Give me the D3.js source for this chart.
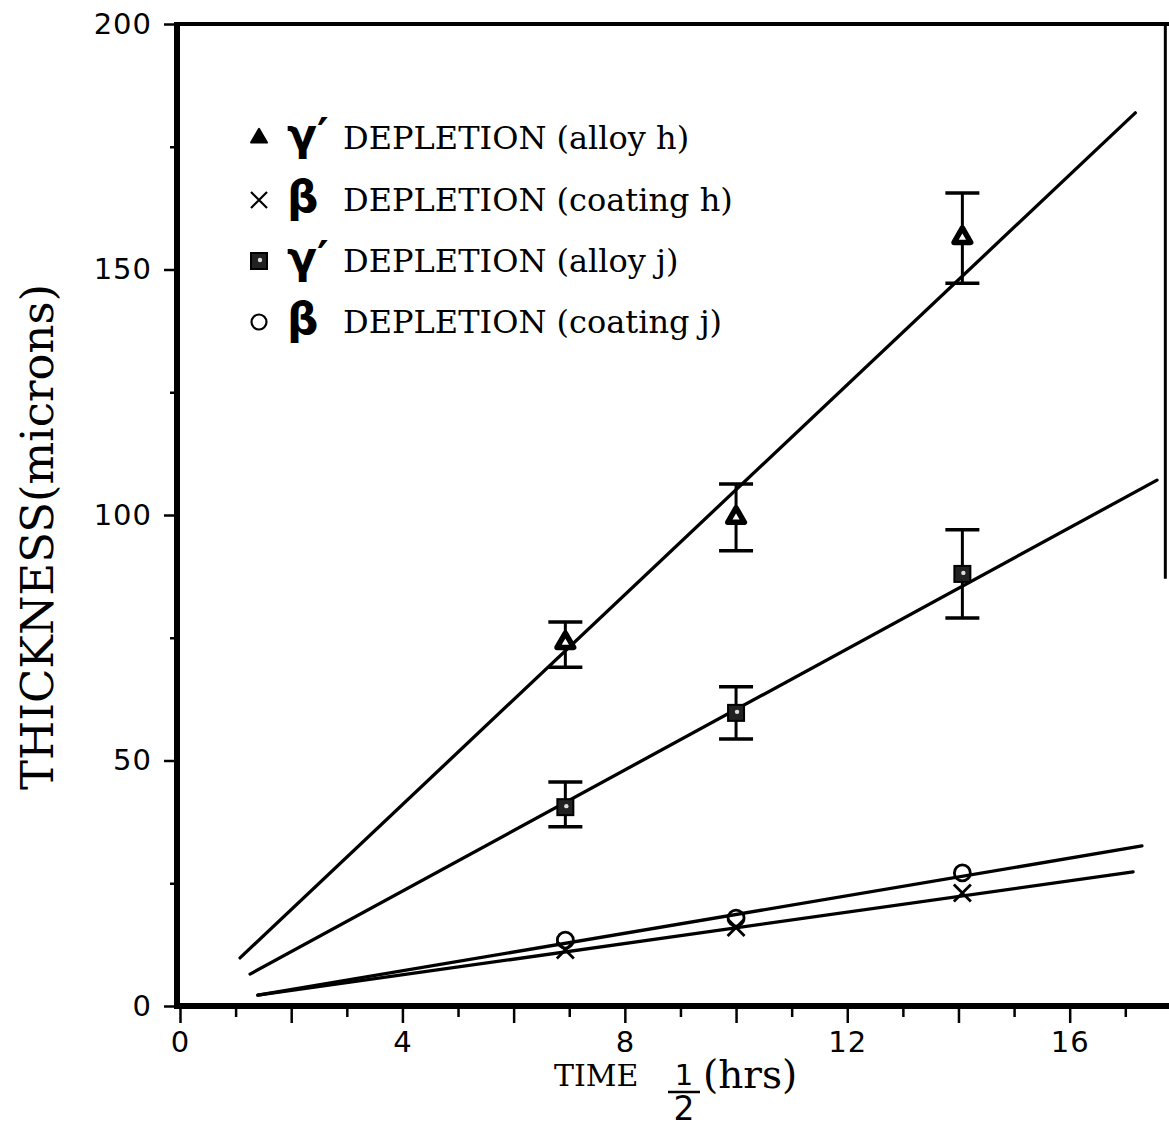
<!DOCTYPE html>
<html>
<head>
<meta charset="utf-8">
<script src="https://cdn.jsdelivr.net/npm/d3@7/dist/d3.min.js"></script>
<style>
body{margin:0;background:#fff;}
svg{display:block;}
</style>
</head>
<body>
<svg id="chart" width="1169" height="1130"></svg>
<script>
// sqrt(time) of the three exposures
var times = [6.93, 10.0, 14.07];

// gamma' depletion, alloy h (triangles) with error bars
var alloyH = [74, 99.5, 156.5];
var alloyHLow = [69, 92.7, 147.2];
var alloyHHigh = [78.2, 106.3, 165.6];

// gamma' depletion, alloy j (squares) with error bars
var alloyJ = [40.5, 59.7, 88];
var alloyJLow = [36.5, 54.4, 79];
var alloyJHigh = [45.6, 65, 97];

// beta depletion in coatings
var coatingH = [11.4, 16, 23];
var coatingJ = [13.4, 17.9, 27.1];

// fitted straight lines, [x, y] at both ends
var fitAlloyH = [[1.08, 9.8], [17.18, 181.9]];
var fitAlloyJ = [[1.26, 6.5], [17.57, 107.1]];
var fitCoatingJ = [[1.4, 2.2], [17.3, 32.6]];
var fitCoatingH = [[1.4, 2.2], [17.14, 27.3]];

var xTickLabels = [0, 4, 8, 12, 16];
var yTickLabels = [0, 50, 100, 150, 200];

var legendGreek = ["\u03b3\u2032", "\u03b2", "\u03b3\u2032", "\u03b2"];
var legendText = ["DEPLETION (alloy h)", "DEPLETION (coating h)", "DEPLETION (alloy j)", "DEPLETION (coating j)"];
var legendMarks = ["triangle", "cross", "square", "circle"];

var svg = d3.select("#chart");
svg.append("rect").attr("width", 1169).attr("height", 1130).attr("fill", "#fff");

var x = d3.scaleLinear().domain([0, 17.75]).range([180, 1167]);
var y = d3.scaleLinear().domain([0, 200]).range([1006, 24]);

// ticks: minor ones first, then labelled ones
var yMinor = d3.range(25, 200, 50);
var yAxisMinor = d3.axisLeft(y).tickValues(yMinor).tickSize(7).tickFormat("");
var yAxisMajor = d3.axisLeft(y).tickValues(yTickLabels).tickSize(13).tickPadding(12);
var xMinor = d3.range(1, 18, 2);
var xMid = d3.range(2, 18, 4);
var xAxisMinor = d3.axisBottom(x).tickValues(xMinor).tickSize(11).tickFormat("");
var xAxisMid = d3.axisBottom(x).tickValues(xMid).tickSize(17).tickFormat("");
var xAxisMajor = d3.axisBottom(x).tickValues(xTickLabels).tickSize(17).tickPadding(8);

function styleAxis(g){
	g.select(".domain").remove();
	g.selectAll("line").attr("stroke", "#000").attr("stroke-width", 2.5);
	g.selectAll("text")
	  .attr("font-family", "DejaVu Sans")
	  .attr("font-size", 29)
	  .attr("letter-spacing", 1)
	  .attr("fill", "#000");
}

var gy = svg.append("g").attr("transform", "translate(" + (x(0) - 3) + ",0)");
gy.append("g").call(yAxisMinor).call(styleAxis);
gy.append("g").call(yAxisMajor).call(styleAxis);

var gx = svg.append("g").attr("transform", "translate(0," + y(0) + ")");
gx.append("g").call(xAxisMinor).call(styleAxis);
gx.append("g").call(xAxisMid).call(styleAxis);
gx.append("g").call(xAxisMajor).call(styleAxis);

// frame
svg.append("line").attr("x1", x(0) - 3).attr("x2", x(0) - 3).attr("y1", y(200) - 2).attr("y2", y(0) + 3)
  .attr("stroke", "#000").attr("stroke-width", 6);
svg.append("line").attr("x1", x(0) - 6).attr("x2", 1169).attr("y1", y(0)).attr("y2", y(0))
  .attr("stroke", "#000").attr("stroke-width", 6);
svg.append("line").attr("x1", x(0) - 6).attr("x2", 1169).attr("y1", y(200)).attr("y2", y(200))
  .attr("stroke", "#000").attr("stroke-width", 4);
svg.append("line").attr("x1", x(17.72)).attr("x2", x(17.72)).attr("y1", y(200)).attr("y2", y(87))
  .attr("stroke", "#000").attr("stroke-width", 3);

// fitted lines
var line = d3.line().x(function(d){ return x(d[0]); }).y(function(d){ return y(d[1]); });
var fits = [fitAlloyH, fitAlloyJ, fitCoatingJ, fitCoatingH];
svg.selectAll("path.fit")
  .data(fits)
  .enter()
  .append("path")
  .attr("class", "fit")
  .attr("d", line)
  .attr("fill", "none")
  .attr("stroke", "#000")
  .attr("stroke-width", 3.3)
  .attr("stroke-linecap", "round");

// error bars
function errorBars(lo, hi){
	var g = svg.append("g");
	for(var i = 0;i < times.length;i++){
		var cx = x(times[i]);
		g.append("line").attr("x1", cx).attr("x2", cx).attr("y1", y(lo[i])).attr("y2", y(hi[i]))
		  .attr("stroke", "#000").attr("stroke-width", 3);
		g.append("line").attr("x1", cx - 17).attr("x2", cx + 17).attr("y1", y(lo[i])).attr("y2", y(lo[i]))
		  .attr("stroke", "#000").attr("stroke-width", 3.5);
		g.append("line").attr("x1", cx - 17).attr("x2", cx + 17).attr("y1", y(hi[i])).attr("y2", y(hi[i]))
		  .attr("stroke", "#000").attr("stroke-width", 3.5);
	}
}
errorBars(alloyHLow, alloyHHigh);
errorBars(alloyJLow, alloyJHigh);

// marker drawing, shared by plot and legend
function drawMark(g, kind, cx, cy, big){
	if(kind == "triangle"){
		g.append("path")
		  .attr("d", d3.symbol().type(d3.symbolTriangle).size(big ? 120 : 110)())
		  .attr("transform", "translate(" + cx + "," + cy + ")")
		  .attr("fill", big ? "#fff" : "#000")
		  .attr("stroke", "#000")
		  .attr("stroke-width", big ? 5.5 : 2)
		  .attr("stroke-linejoin", "round");
	}else if(kind == "square"){
		var h = 8;
		g.append("rect").attr("x", cx - h).attr("y", cy - h).attr("width", 2 * h).attr("height", 2 * h)
		  .attr("fill", "#222").attr("stroke", "#000").attr("stroke-width", 2);
		g.append("circle").attr("cx", cx + 1).attr("cy", cy - 1).attr("r", 2.2).attr("fill", "#ddd");
	}else if(kind == "circle"){
		g.append("circle").attr("cx", cx).attr("cy", cy).attr("r", big ? 8 : 7.5)
		  .attr("fill", "none").attr("stroke", "#000").attr("stroke-width", big ? 2.8 : 2.2);
	}else if(kind == "cross"){
		var c = big ? 8.5 : 8;
		g.append("path")
		  .attr("d", "M" + (cx - c) + "," + (cy - c) + "L" + (cx + c) + "," + (cy + c) +
		             "M" + (cx - c) + "," + (cy + c) + "L" + (cx + c) + "," + (cy - c))
		  .attr("stroke", "#000").attr("stroke-width", big ? 2.8 : 2.2);
	}
}

var series = [
	{kind: "triangle", values: alloyH},
	{kind: "square", values: alloyJ},
	{kind: "circle", values: coatingJ},
	{kind: "cross", values: coatingH}
];
var gm = svg.append("g");
series.forEach(function(s){
	for(var i = 0;i < times.length;i++){
		drawMark(gm, s.kind, x(times[i]), y(s.values[i]), true);
	}
});

// legend
var gl = svg.append("g");
var rowY = [138, 200, 261, 322];
for(var i = 0;i < legendText.length;i++){
	drawMark(gl, legendMarks[i], 259, rowY[i], false);
	gl.append("text")
	  .attr("x", 287)
	  .attr("y", rowY[i] + 12)
	  .attr("font-family", "DejaVu Sans")
	  .attr("font-weight", "bold")
	  .attr("font-size", 44)
	  .text(legendGreek[i]);
	gl.append("text")
	  .attr("x", 343)
	  .attr("y", rowY[i] + 11)
	  .attr("font-family", "DejaVu Serif")
	  .attr("font-size", 32)
	  .text(legendText[i]);
}

// axis titles
svg.append("text")
  .attr("transform", "translate(53,537) rotate(-90)")
  .attr("text-anchor", "middle")
  .attr("font-family", "DejaVu Serif")
  .attr("font-size", 45)
  .text("THICKNESS(microns)");

var gt = svg.append("g");
gt.append("text").attr("x", 554).attr("y", 1086)
  .attr("font-family", "DejaVu Serif").attr("font-size", 30).text("TIME");
gt.append("text").attr("x", 684).attr("y", 1085).attr("text-anchor", "middle")
  .attr("font-family", "DejaVu Sans").attr("font-size", 29).text("1");
gt.append("line").attr("x1", 668).attr("x2", 700).attr("y1", 1092).attr("y2", 1092)
  .attr("stroke", "#000").attr("stroke-width", 2.5);
gt.append("text").attr("x", 684).attr("y", 1120).attr("text-anchor", "middle")
  .attr("font-family", "DejaVu Sans").attr("font-size", 33).text("2");
gt.append("text").attr("x", 703).attr("y", 1088)
  .attr("font-family", "DejaVu Serif").attr("font-size", 39).text("(hrs)");
</script>
</body>
</html>
